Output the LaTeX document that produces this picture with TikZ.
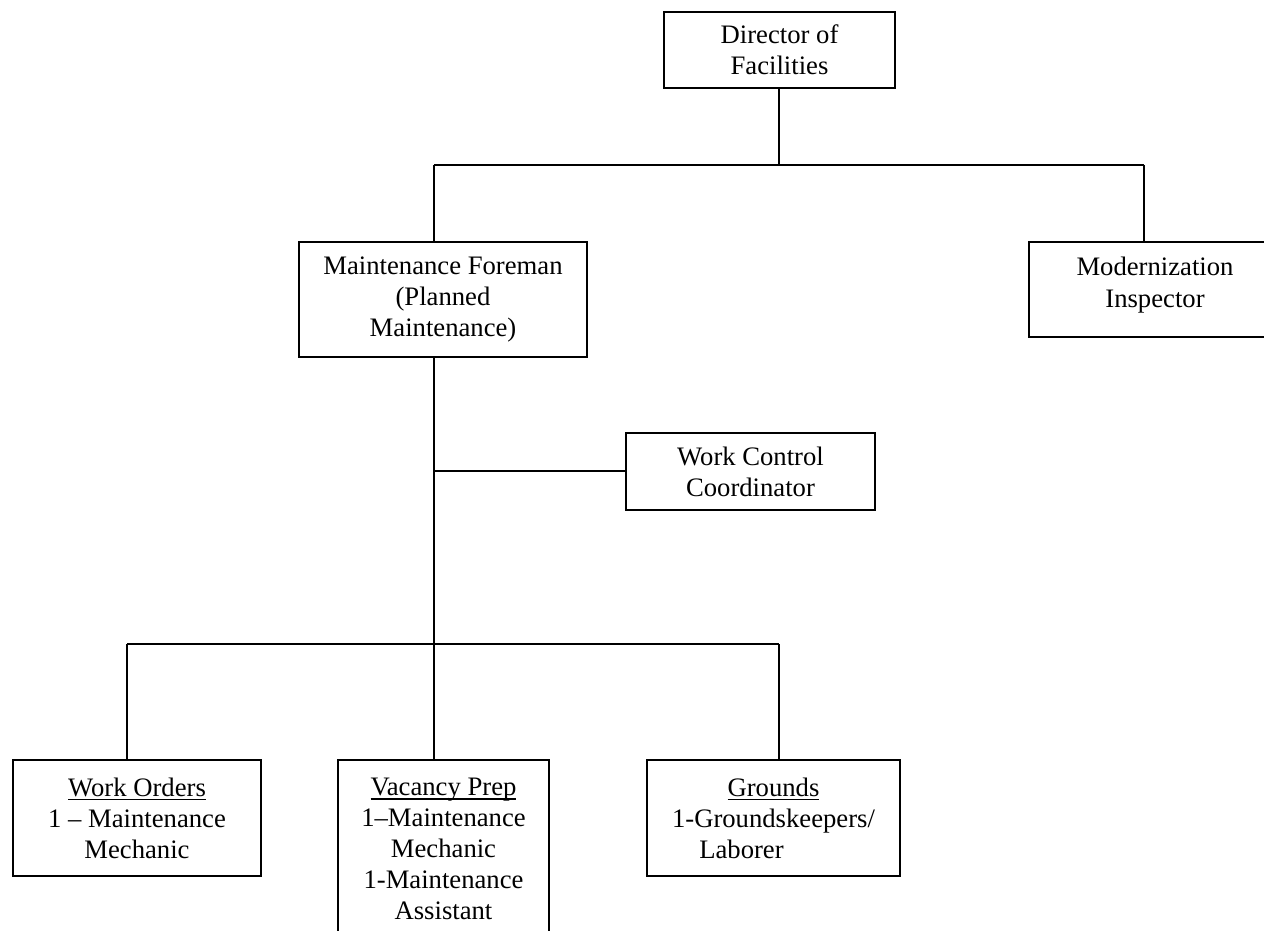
\documentclass[tikz,border=0pt]{standalone}
\usepackage{fontspec}
\setmainfont{Liberation Serif}
\usetikzlibrary{positioning}
\newcommand\souligne[1]{\setbox0\hbox{#1}\rlap{\vrule height -1.3pt depth 2pt width \wd0}\box0}

\begin{document}
\begin{tikzpicture}[x=0.45pt,y=-0.45pt,line width=0.85pt]
% définition des styles
\tikzstyle{boite}=[rectangle,draw,inner sep=0pt,align=center,font=\fontsize{12}{14}\selectfont]
\tikzstyle{lien}=[draw,line width=0.85pt]
\useasboundingbox (0,0) rectangle (1264,931);
% les nœuds
\node[boite,minimum width=103.95pt,minimum height=34.2pt] (dir) at (779.5,50) {Director of\\Facilities};
\node[boite,minimum width=129.6pt,minimum height=51.75pt] (fore) at (443,299.5) {Maintenance Foreman\\(Planned\\Maintenance)};
\node[boite,minimum width=113.4pt,minimum height=42.75pt] (modern) at (1155,289.5) {Modernization\\Inspector\vspace{4pt}};
\node[boite,minimum width=112.05pt,minimum height=34.65pt] (wcc) at (750.5,471.5) {Work Control\\Coordinator};
\node[boite,minimum width=111.6pt,minimum height=52.2pt] (wo) at (137,818) {\souligne{Work Orders}\\1 -- Maintenance\\Mechanic};
\node[boite,minimum width=94.95pt,minimum height=80.1pt] (vp) at (443.5,849) {\souligne{Vacancy Prep}\\1--Maintenance\\Mechanic\\1-Maintenance\\Assistant};
\node[boite,minimum width=113.85pt,minimum height=52.2pt] (gr) at (773.5,818) {\souligne{Grounds}\\1-Groundskeepers/\\Laborer\hspace*{2.4em}};
% les points de jonction
\coordinate (dj) at (779,165);
\coordinate (tl) at (434,165);
\coordinate (tr) at (1144,165);
\coordinate (wj) at (434,471);
\coordinate (bl) at (127,644);
\coordinate (br) at (779,644);
% les liens
\draw[lien] (dj |- dir.south) -- (dj);
\draw[lien] (tl) -- (tr);
\draw[lien] (tl) -- (tl |- fore.north);
\draw[lien] (tr) -- (tr |- modern.north);
\draw[lien] (tl |- fore.south) -- (tl |- vp.north);
\draw[lien] (wj) -- (wj -| wcc.west);
\draw[lien] (bl) -- (br);
\draw[lien] (bl) -- (bl |- wo.north);
\draw[lien] (br) -- (br |- gr.north);
\end{tikzpicture}
\end{document}
